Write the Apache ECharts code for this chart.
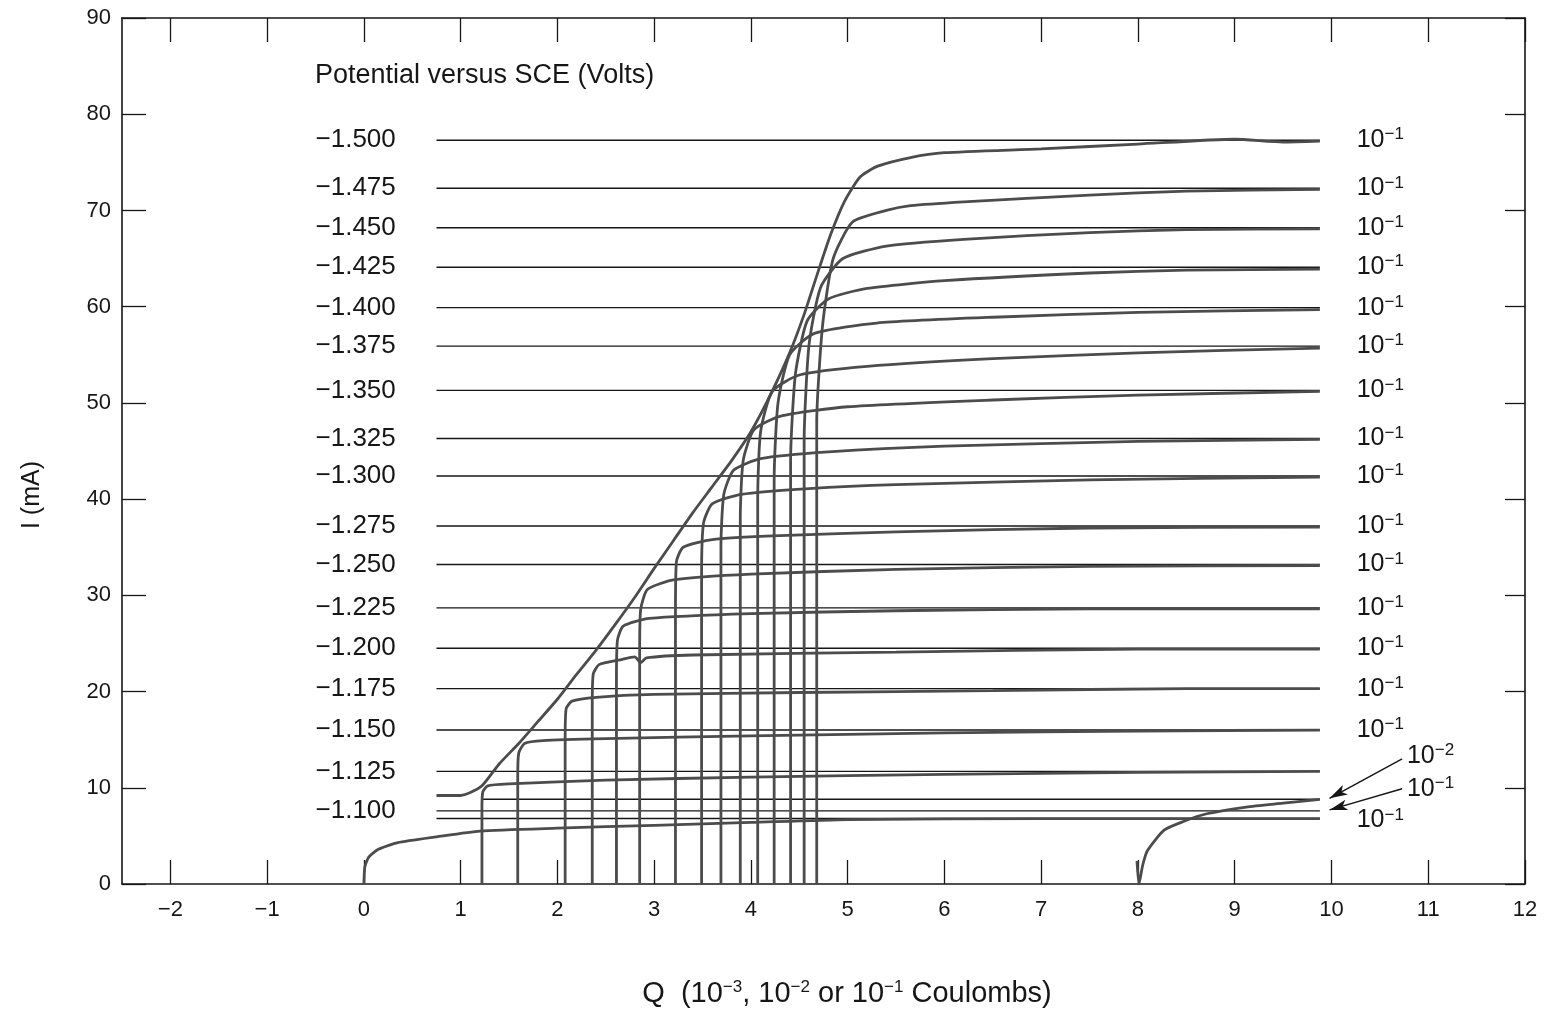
<!DOCTYPE html>
<html>
<head>
<meta charset="utf-8">
<script src="https://cdn.jsdelivr.net/npm/echarts@6/dist/echarts.min.js"></script>
<style>html,body{margin:0;padding:0;background:#fff}#container{width:1547px;height:1013px}</style>
</head>
<body>
<div id="container"></div>
<script>
// potentials written on the left, and the level each trace ends on
let potentials = ['−1.500','−1.475','−1.450','−1.425','−1.400','−1.375','−1.350','−1.325','−1.300',
                  '−1.275','−1.250','−1.225','−1.200','−1.175','−1.150','−1.125','−1.100'];
let levels = [77.3,72.3,68.2,64.1,59.9,55.9,51.3,46.3,42.4,37.2,33.2,28.7,24.5,20.3,16.0,11.7,7.6];

// Q scale exponent written at the right end of the upper traces
let scaleExp = ['−1','−1','−1','−1','−1','−1','−1','−1','−1','−1','−1','−1','−1','−1','−1'];
let scaleLevels = [77.3,72.3,68.2,64.1,59.9,55.9,51.3,46.3,42.4,37.2,33.2,28.7,24.5,20.3,16.0];

// the three notes at the bottom right
let noteExp = ['−2','−1','−1'];
let noteX = [10.78,10.78,10.26];
let noteY = [13.3,9.9,6.6];
let arrowFrom = [[10.73,13.0],[10.73,9.9]];
let arrowTo = [[9.98,8.9],[9.98,7.7]];

let xTicks = [-2,-1,0,1,2,3,4,5,6,7,8,9,10,11,12];

// extra reference lines (10^-2 trace and the trace from Q = 0)
let extraLevels = [8.8, 6.8];
let extraStart = [1.22, 0.75];
let refStart = 0.75;
let refEnd = 9.88;
let labelX = -0.50;
let scaleX = 10.26;

// traces, [Q, I]
let c1500 = [[0.75,9.2],[1.0,9.2],[1.1,9.5],[1.22,10.2],[1.4,12.5],[1.6,14.6],[1.8,16.9],[2.0,19.2],[2.2,21.8],
             [2.4,24.3],[2.6,27.0],[2.8,29.8],[3.0,32.8],[3.2,35.7],[3.4,38.6],[3.6,41.3],[3.8,44.0],[4.0,47.0],
             [4.2,50.8],[4.4,55.2],[4.55,59.2],[4.68,63.2],[4.82,67.4],[4.97,71.0],[5.13,73.5],[5.31,74.6],
             [5.65,75.5],[6.0,76.0],[7.0,76.4],[8.0,76.9],[9.0,77.4],[9.5,77.1],[9.88,77.2]];
let c1475 = [[4.68,0],[4.68,48],[4.74,58],[4.85,65],[5.05,68.8],[5.4,70.0],[5.65,70.5],[6.2,70.9],[7.5,71.6],[8.5,72.0],[9.88,72.2]];
let c1450 = [[4.55,0],[4.55,46],[4.6,56],[4.72,62],[4.95,65.0],[5.4,66.3],[6.2,67.0],[7.5,67.7],[8.5,68.0],[9.88,68.1]];
let c1425 = [[4.41,0],[4.41,44],[4.46,53],[4.58,58.5],[4.8,60.8],[5.2,61.9],[6.0,62.7],[7.5,63.5],[8.5,63.8],[9.88,63.9]];
let c1400 = [[4.24,0],[4.24,42],[4.28,50],[4.4,55],[4.65,57.2],[5.3,58.3],[6.5,58.9],[8.0,59.4],[9.88,59.7]];
let c1375 = [[4.07,0],[4.07,40],[4.1,47],[4.22,51.2],[4.5,52.9],[5.2,53.8],[6.5,54.6],[8.0,55.2],[9.88,55.7]];
let c1350 = [[3.89,0],[3.89,38],[3.92,44],[4.03,47.2],[4.3,48.6],[5.0,49.6],[6.5,50.3],[8.0,50.8],[9.88,51.2]];
let c1325 = [[3.69,0],[3.69,35],[3.72,40.5],[3.82,43.0],[4.1,44.2],[4.8,44.9],[6.0,45.5],[8.0,46.0],[9.88,46.2]];
let c1300 = [[3.49,0],[3.49,32],[3.51,37.5],[3.6,39.5],[3.9,40.5],[4.6,41.1],[5.5,41.5],[7.5,42.0],[9.88,42.3]];
let c1275 = [[3.22,0],[3.22,28],[3.23,33.5],[3.3,35.0],[3.6,35.8],[4.3,36.2],[5.5,36.6],[7.5,37.0],[9.88,37.1]];
let c1250 = [[2.85,0],[2.85,24],[2.86,28.5],[2.93,30.6],[3.2,31.6],[4.0,32.2],[5.5,32.7],[7.5,33.0],[9.88,33.1]];
let c1225 = [[2.61,0],[2.61,21],[2.62,25.3],[2.68,26.8],[2.95,27.6],[4.0,28.1],[5.5,28.4],[7.5,28.6],[9.88,28.6]];
let c1200 = [[2.36,0],[2.36,18.5],[2.37,21.8],[2.43,22.8],[2.65,23.3],[2.8,23.6],[2.86,23.0],[2.92,23.5],[3.4,23.8],[5.5,24.1],[8.0,24.4],[9.88,24.4]];
let c1175 = [[2.08,0],[2.08,15],[2.09,18.2],[2.15,19.0],[2.4,19.4],[3.0,19.7],[4.5,19.9],[6.5,20.1],[8.5,20.3],[9.88,20.3]];
let c1150 = [[1.59,0],[1.59,11],[1.6,13.6],[1.66,14.6],[1.85,14.9],[2.5,15.1],[4.0,15.4],[6.0,15.7],[8.0,15.9],[9.88,16.0]];
let c1125 = [[1.22,0],[1.22,8],[1.23,9.6],[1.28,10.2],[1.5,10.4],[2.5,10.8],[4.0,11.1],[6.0,11.4],[8.0,11.6],[9.88,11.7]];
let c0 = [[0,0],[0.01,1.8],[0.05,2.8],[0.15,3.6],[0.35,4.3],[0.75,4.9],[1.2,5.5],[2.0,5.8],[3.0,6.1],[4.0,6.4],[5.0,6.7],[7.0,6.8],[9.88,6.8]];
let c8 = [[7.99,2.4],[8.01,0],[8.05,2.0],[8.1,3.5],[8.27,5.6],[8.47,6.5],[8.71,7.3],[9.12,8.0],[9.5,8.4],[9.88,8.8]];

let traces = [c1500,c1475,c1450,c1425,c1400,c1375,c1350,c1325,c1300,c1275,c1250,c1225,c1200,c1175,c1150,c1125,c0,c8];

const font = '"Liberation Sans", Arial, Helvetica, sans-serif';
const ink = '#161616';
const supRich = {s: {fontSize: 17, verticalAlign: 'top', lineHeight: 13, color: ink, fontFamily: font}};

function refLine(y, x0){
    return {
        type: 'line', data: [[x0, y], [refEnd, y]], showSymbol: false, silent: true,
        lineStyle: {color: ink, width: 1.4}, z: 2
    };
}

let series = [];
levels.forEach((l) => series.push(refLine(l, refStart)));
extraLevels.forEach((l, i) => series.push(refLine(l, extraStart[i])));
traces.forEach((t) => {
    series.push({
        type: 'line', data: t, smooth: 0.2, showSymbol: false, silent: true,
        lineStyle: {color: '#4c4c4c', width: 2.8}, z: 3
    });
});

series.push({
    type: 'scatter', symbolSize: 0, silent: true, itemStyle: {opacity: 1},
    data: levels.map((l, i) => ({value: [labelX, l], name: potentials[i]})),
    label: {show: true, position: 'right', distance: 0, formatter: '{b}', fontSize: 26, color: ink, fontFamily: font}
});
series.push({
    type: 'scatter', symbolSize: 0, silent: true, itemStyle: {opacity: 1},
    data: scaleLevels.map((l) => [scaleX, l]),
    label: {
        show: true, position: 'right', distance: 0, fontSize: 25, lineHeight: 28, color: ink, fontFamily: font,
        formatter: (p) => '10{s|' + scaleExp[p.dataIndex] + '}', rich: supRich
    }
});
series.push({
    type: 'scatter', symbolSize: 0, silent: true, itemStyle: {opacity: 1},
    data: noteX.map((x, i) => [x, noteY[i]]),
    label: {
        show: true, position: 'right', distance: 0, fontSize: 25, lineHeight: 28, color: ink, fontFamily: font,
        formatter: (p) => '10{s|' + noteExp[p.dataIndex] + '}', rich: supRich
    },
    markLine: {
        silent: true, symbol: ['none', 'arrow'], symbolSize: [8, 18], animation: false,
        label: {show: false},
        lineStyle: {color: ink, width: 1.4, type: 'solid'},
        data: arrowFrom.map((f, i) => [{coord: f}, {coord: arrowTo[i]}])
    }
});

const axisLine = {show: true, onZero: false, lineStyle: {color: ink, width: 1.6}};
const tickStyle = {color: ink, width: 1.3};

let chart = echarts.init(document.getElementById('container'));
chart.setOption({
    animation: false,
    backgroundColor: '#fff',
    grid: {left: 122, right: 22, top: 18, bottom: 129},
    xAxis: [{
        type: 'value', min: -2.5, max: 12, position: 'bottom',
        axisLine: axisLine,
        axisTick: {show: true, inside: true, length: 24, customValues: xTicks, lineStyle: tickStyle},
        axisLabel: {customValues: xTicks, formatter: (v) => String(v).replace('-', '−'),
                    fontSize: 22, margin: 15, color: ink, fontFamily: font},
        splitLine: {show: false}
    }, {
        type: 'value', min: -2.5, max: 12, position: 'top',
        axisLine: axisLine,
        axisTick: {show: true, inside: true, length: 24, customValues: xTicks, lineStyle: tickStyle},
        axisLabel: {show: false},
        splitLine: {show: false}
    }],
    yAxis: [{
        type: 'value', min: 0, max: 90, interval: 10, position: 'left',
        axisLine: axisLine,
        axisTick: {show: true, inside: true, length: 24, lineStyle: tickStyle},
        axisLabel: {fontSize: 22, margin: 11, color: ink, fontFamily: font},
        splitLine: {show: false}
    }, {
        type: 'value', min: 0, max: 90, interval: 10, position: 'right',
        axisLine: axisLine,
        axisTick: {show: true, inside: true, length: 20, lineStyle: tickStyle},
        axisLabel: {show: false},
        splitLine: {show: false}
    }],
    graphic: [{
        type: 'text', left: 315, top: 62,
        style: {text: 'Potential versus SCE (Volts)', fontSize: 27, fill: ink, fontFamily: font}
    }, {
        type: 'text', x: 32, y: 495, rotation: Math.PI / 2,
        style: {text: 'I (mA)', fontSize: 25, fill: ink, fontFamily: font, align: 'center', verticalAlign: 'middle'}
    }, {
        type: 'text', x: 847, y: 994,
        style: {
            text: 'Q  (10{s|−3}, 10{s|−2} or 10{s|−1} Coulombs)', fontSize: 29, lineHeight: 30,
            fill: ink, fontFamily: font, align: 'center', verticalAlign: 'middle', rich: supRich
        }
    }],
    series: series
});
</script>
</body>
</html>
